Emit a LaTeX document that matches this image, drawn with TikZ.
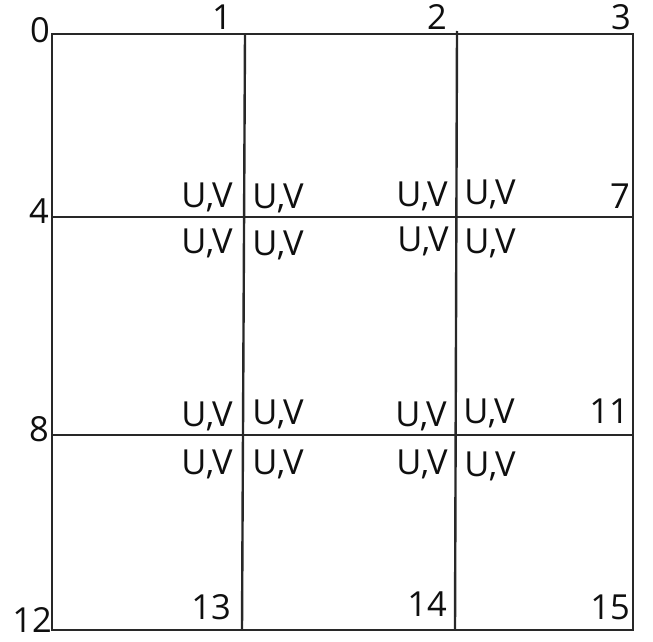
\documentclass[tikz,border=0pt]{standalone}
\usepackage{fontspec}
\setmainfont{Open Sans}
\definecolor{gridcol}{RGB}{40,40,40}
\definecolor{textcol}{RGB}{15,15,15}
\begin{document}
\begin{tikzpicture}[x=1pt,y=-1pt,
  lbl/.style={inner sep=0pt, anchor=base, font=\fontsize{34.5}{38}\selectfont, text=textcol},
  gridline/.style={line width=2.4pt, draw=gridcol}]
\useasboundingbox (0,0) rectangle (653,642);
% grid
\coordinate (tl) at (52,34);
\coordinate (br) at (633,630);
\coordinate (h1l) at (52,217);  \coordinate (h1r) at (633,217);
\coordinate (h2l) at (52,435);  \coordinate (h2r) at (633,435);
\coordinate (v1t) at (245,34);  \coordinate (v1b) at (242,630);
\coordinate (v2t) at (457,31);  \coordinate (v2b) at (455,630);
\draw[gridline] (tl) rectangle (br);
\draw[gridline] (h1l) -- (h1r);
\draw[gridline] (h2l) -- (h2r);
\draw[gridline] (v1t) -- (v1b);
\draw[gridline] (v2t) -- (v2b);
% corner numbers
\node[lbl] (n0) at (40,43) {0};
\node[lbl] (n1) at (222,30) {1};
\node[lbl] (n2) at (437,30) {2};
\node[lbl] (n3) at (621,30) {3};
\node[lbl] (n4) at (39,223) {4};
\node[lbl] (n7) at (620,208) {7};
\node[lbl] (n8) at (39,441) {8};
\node[lbl] (n11) at (609,423) {11};
\node[lbl] (n12) at (32,632) {12};
\node[lbl] (n13) at (211,619) {13};
\node[lbl] (n14) at (427,616) {14};
\node[lbl] (n15) at (610,619) {15};
% U,V labels
\node[lbl] (a1) at (207,207) {U,V};
\node[lbl] (a2) at (278,208) {U,V};
\node[lbl] (a3) at (422,206) {U,V};
\node[lbl] (a4) at (490,204) {U,V};
\node[lbl] (b1) at (207,253) {U,V};
\node[lbl] (b2) at (278,255) {U,V};
\node[lbl] (b3) at (423,251) {U,V};
\node[lbl] (b4) at (490,253) {U,V};
\node[lbl] (c1) at (207,426) {U,V};
\node[lbl] (c2) at (278,424) {U,V};
\node[lbl] (c3) at (421,426) {U,V};
\node[lbl] (c4) at (489,423) {U,V};
\node[lbl] (d1) at (207,474) {U,V};
\node[lbl] (d2) at (278,474) {U,V};
\node[lbl] (d3) at (422,474) {U,V};
\node[lbl] (d4) at (490,476) {U,V};
\end{tikzpicture}
\end{document}
